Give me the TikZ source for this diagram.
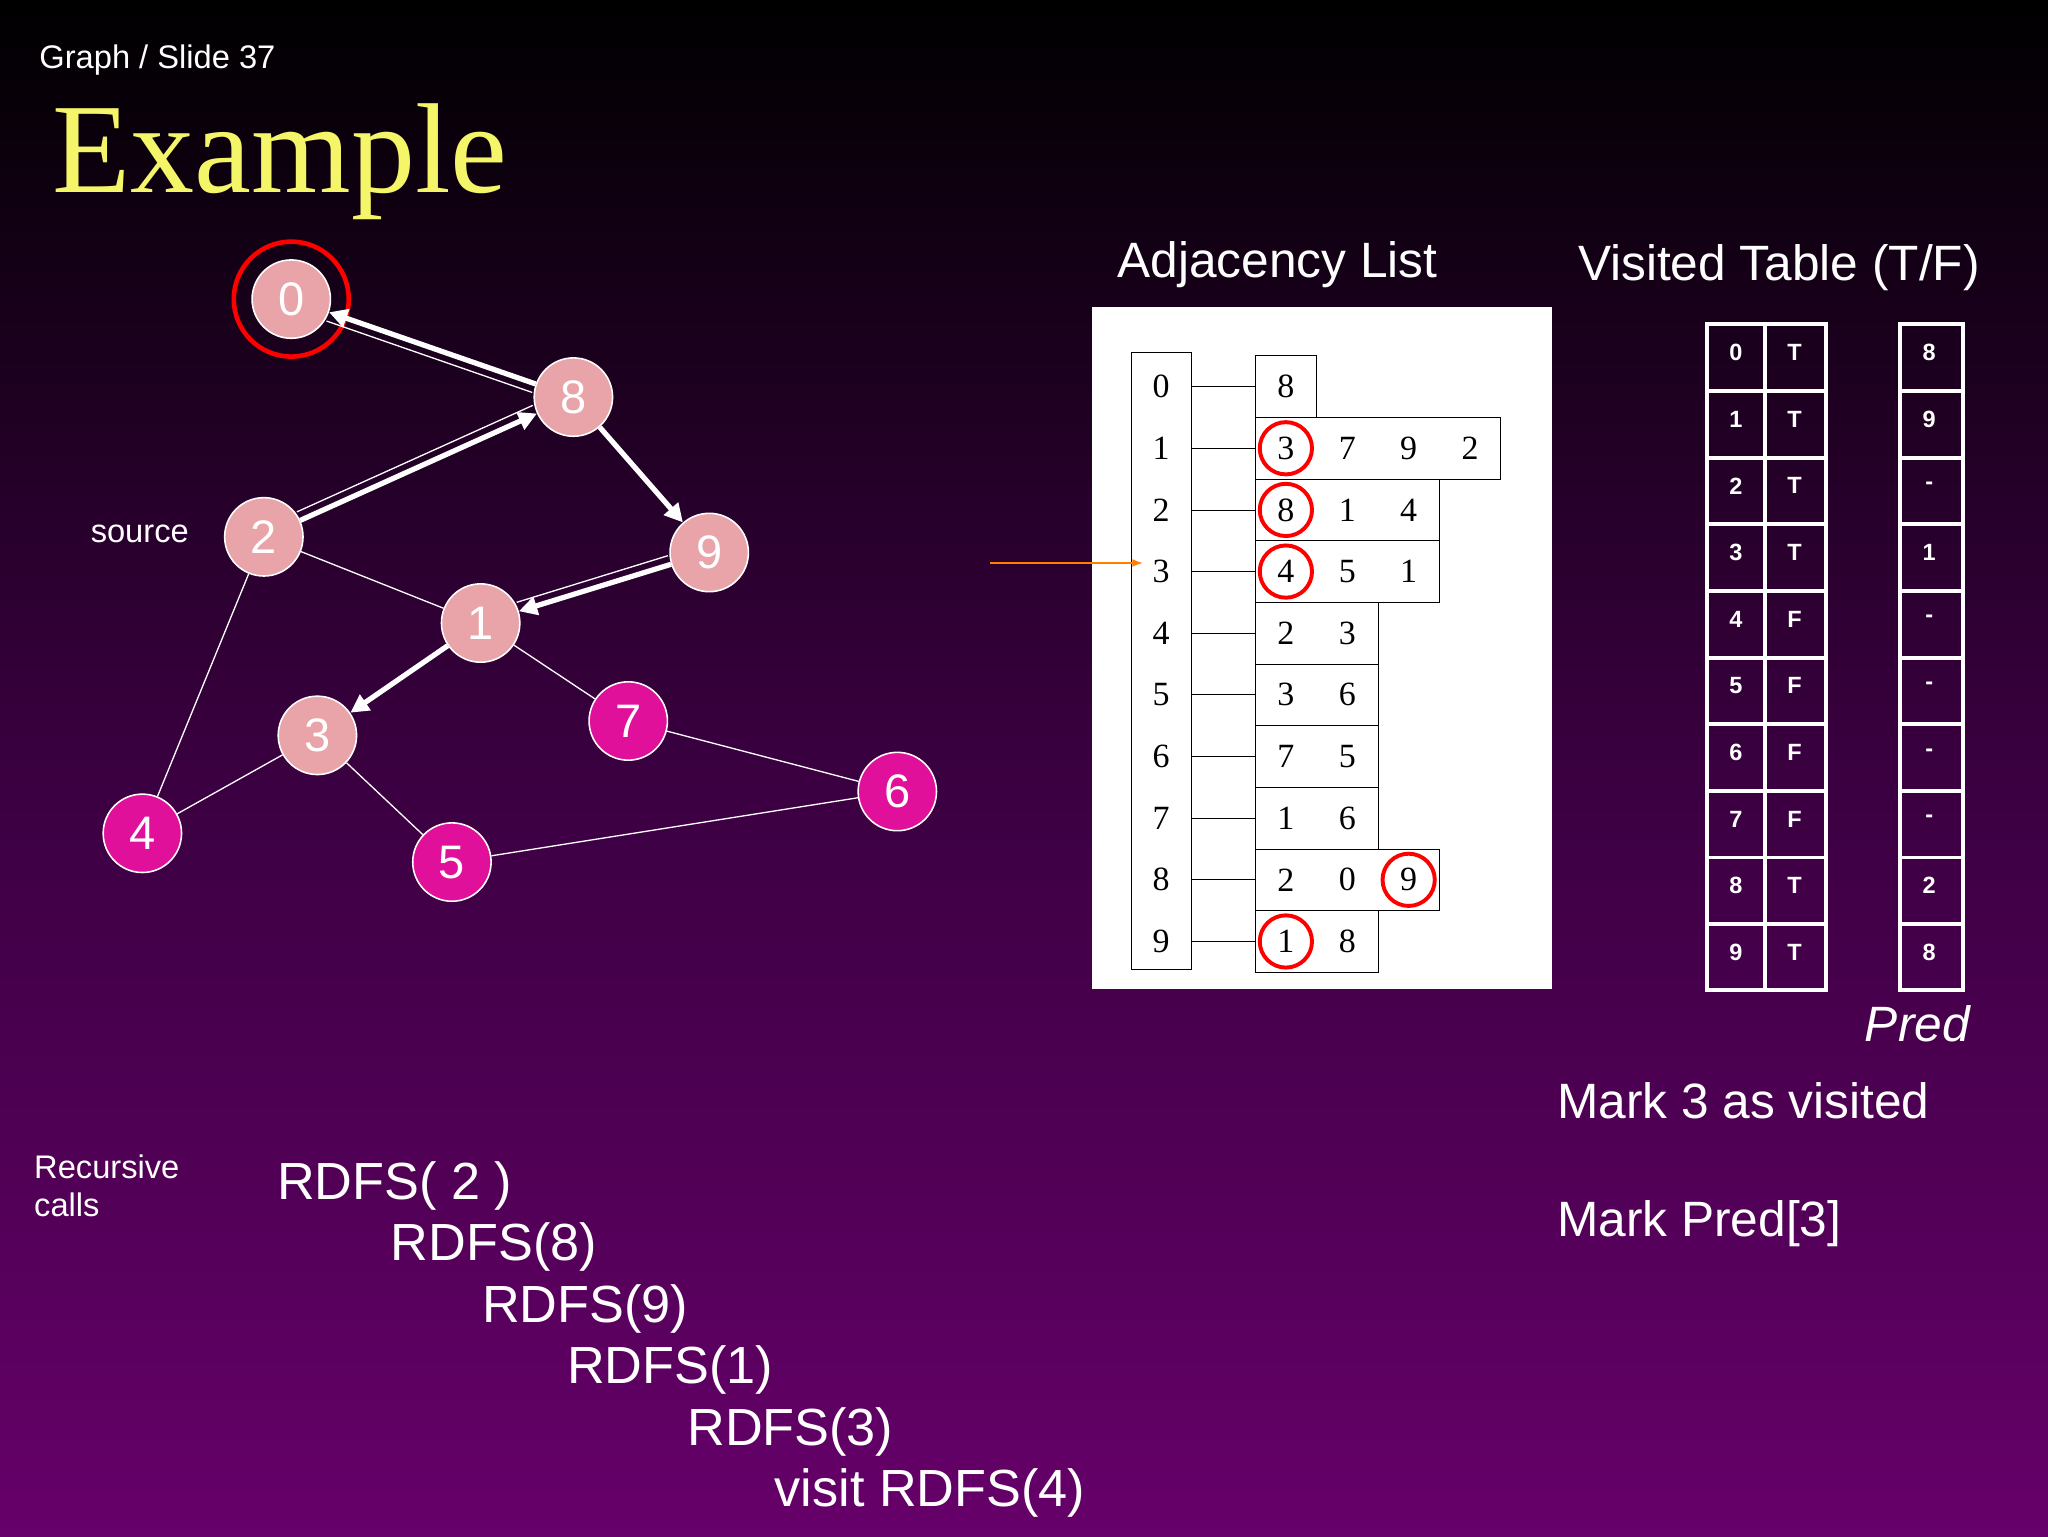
\documentclass[tikz,border=0pt]{standalone}
\usepackage{fontspec}
\setmainfont{Liberation Sans}
\newfontfamily\serif{Liberation Serif}
\usetikzlibrary{arrows.meta,calc}
\definecolor{vis}{HTML}{E8A4A8}
\definecolor{unv}{HTML}{E0109A}
\definecolor{bgbot}{HTML}{66006A}
\definecolor{bgmid}{HTML}{3A0040}
\definecolor{ylw}{HTML}{F5F56A}
\newcommand{\fs}[1]{\fontsize{#1}{#1}\selectfont}
\begin{document}
\begin{tikzpicture}[x=1pt,y=-1pt,
  gn/.style={circle,draw=white,line width=1.2pt,minimum size=60pt,inner sep=0pt,text=white,font=\fs{36}},
  v/.style={gn,fill=vis}, u/.style={gn,fill=unv},
  thin edge/.style={white,line width=1pt},
  par/.style={white,line width=1pt,shorten >=31pt,shorten <=31pt},
  tree/.style={white,line width=4pt,-{Triangle[length=14pt,width=14pt]}},
  txt/.style={text=white,anchor=west,inner sep=0pt},
  cell/.style={draw=black,line width=0.6pt},
  red ring/.style={draw=red,line width=3pt},
  vt/.style={draw=white,line width=3pt}]
\shade[top color=black,bottom color=bgbot,middle color=bgmid] (0,0) rectangle (1568,1176);
\useasboundingbox (0,0) rectangle (1568,1176);
% titles
\node[txt,font=\fs{25}] (ttl) at (30,46) {Graph / Slide 37};
\node[anchor=west,inner sep=0pt,text=ylw,font=\serif\fs{98}] (ex) at (40,124) {Example};
% graph
\node[v] (n0) at (223,229) {0};
\node[v] (n8) at (439,304) {8};
\node[v] (n2) at (202,411) {2};
\node[v] (n9) at (543,423) {9};
\node[v] (n1) at (368,477) {1};
\node[u] (n7) at (481,552) {7};
\node[v] (n3) at (243,563) {3};
\node[u] (n6) at (687,606) {6};
\node[u] (n4) at (109,638) {4};
\node[u] (n5) at (346,660) {5};
\draw[red ring,line width=3.5pt] (n0) circle (44pt);
\node[txt,font=\fs{25},anchor=center] (src) at (107,409) {source};
\draw[thin edge] (n2)--(n1) (n2)--(n4) (n1)--(n7) (n3)--(n4) (n3)--(n5) (n7)--(n6) (n5)--(n6);
\draw[tree] (n8)--(n0);
\draw[tree] (n2)--(n8);
\draw[tree] (n8)--(n9);
\draw[tree] (n9)--(n1);
\draw[tree] (n1)--(n3);
\draw[par] ($(n8)!7pt!90:(n0)$)--($(n0)!7pt!-90:(n8)$);
\draw[par] ($(n2)!7pt!90:(n8)$)--($(n8)!7pt!-90:(n2)$);
\draw[par] ($(n9)!7pt!-90:(n1)$)--($(n1)!7pt!90:(n9)$);
% adjacency list
\node[txt,font=\fs{38},anchor=center] (al) at (978,203) {Adjacency List};
\fill[white] (836,235) rectangle (1188,757);
\draw[cell] (866,270) rectangle (912,742);
\foreach \i/\n in {0/1,1/4,2/3,3/3,4/2,5/2,6/2,7/2,8/3,9/2}{
  \pgfmathsetmacro\yc{296+47.2*\i}
  \node[font=\serif\fs{26}] at (889,\yc) {\i};
  \draw[cell] (912,\yc)--(961,\yc);
  \draw[cell] (961,\yc-23.6) rectangle (961+47*\n,\yc+23.6);
}
\foreach \i/\list in {0/{8},1/{3,7,9,2},2/{8,1,4},3/{4,5,1},4/{2,3},5/{3,6},6/{7,5},7/{1,6},8/{2,0,9},9/{1,8}}{
  \pgfmathsetmacro\yc{296+47.2*\i}
  \foreach \e [count=\k] in \list {\node[font=\serif\fs{26}] at (961+47*\k-23.5,\yc) {\e};}
}
\foreach \i/\k in {1/1,2/1,3/1,8/3,9/1}{
  \pgfmathsetmacro\yc{296+47.2*\i}
  \draw[red ring] (961+47*\k-23.5,\yc) circle (20pt);
}
\coordinate (oa) at (758,431);
\coordinate (ob) at (875,431);
\draw[orange,line width=1.2pt,-{Latex[length=8pt]}] (oa)--(ob);
% visited
\node[txt,font=\fs{38},anchor=center] (vtl) at (1362,205) {Visited Table (T/F)};
\draw[vt] (1307,248) rectangle (1398,758);
\draw[vt] (1351,248)--(1351,758);
\draw[vt] (1455,248) rectangle (1503,758);
\foreach \i/\t/\p in {0/T/8,1/T/9,2/T/-,3/T/1,4/F/-,5/F/-,6/F/-,7/F/-,8/T/2,9/T/8}{
  \pgfmathsetmacro\yc{274+51*\i}
  \ifnum\i>0 \draw[vt] (1307,\yc-25.5)--(1398,\yc-25.5); \draw[vt] (1455,\yc-25.5)--(1503,\yc-25.5);\fi
  \node[text=white,font=\bfseries\fs{18}] at (1329,\yc-4) {\i};
  \node[text=white,font=\bfseries\fs{18}] at (1374,\yc-4) {\t};
  \node[text=white,font=\bfseries\fs{18}] at (1477,\yc-4) {\p};
}
\node[text=white,font=\itshape\fs{38}] (pred) at (1468,784) {Pred};
\node[txt,font=\fs{38}] (m1) at (1192,843) {Mark 3 as visited};
\node[txt,font=\fs{38}] (m2) at (1192,937) {Mark Pred[3]};
\node[txt,font=\fs{25},align=left] (rc) at (26,908) {Recursive\\[4pt]calls};
\node[txt,font=\fs{40}] (r2) at (212,908) {RDFS( 2 )};
\node[txt,font=\fs{40}] (r8) at (299,955) {RDFS(8)};
\node[txt,font=\fs{40}] (r9) at (369,1002) {RDFS(9)};
\node[txt,font=\fs{40}] (r1) at (434,1049) {RDFS(1)};
\node[txt,font=\fs{40}] (r3) at (526,1096) {RDFS(3)};
\node[txt,font=\fs{40}] (r4) at (593,1143) {visit RDFS(4)};
\end{tikzpicture}
\end{document}
